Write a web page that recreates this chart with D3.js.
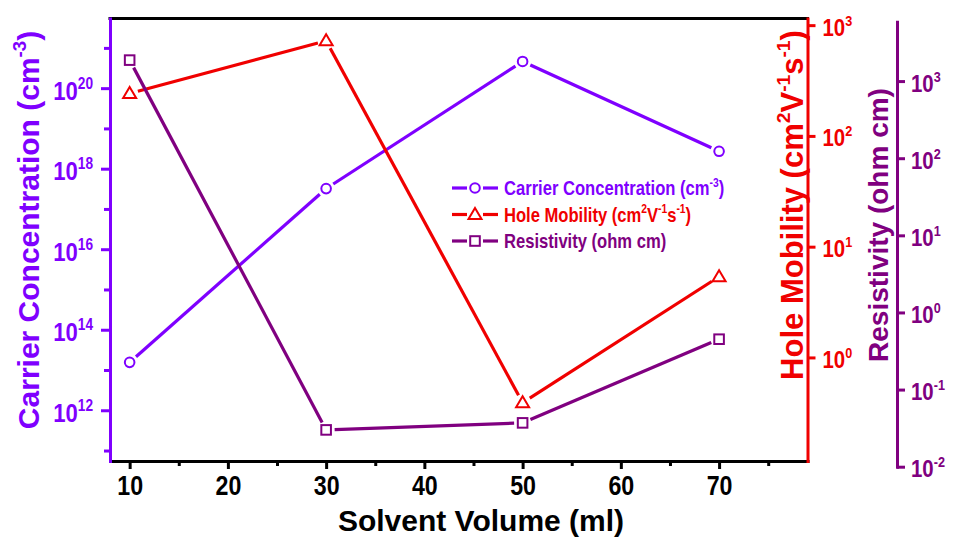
<!DOCTYPE html>
<html><head><meta charset="utf-8">
<script src="https://cdn.jsdelivr.net/npm/d3@7"></script>
<style>
body{margin:0;background:#fff}
svg{display:block}
text{font-family:"Liberation Sans",Arial,sans-serif;font-weight:bold}
</style>
</head><body>
<svg id="chart" width="956" height="537"></svg>
<script>
// ---- data ----
const volumes = [10, 30, 50, 70];
const carrierConc = [1.55e13, 3.2e17, 4.6e20, 2.7e18];
const holeMobility = [242, 722, 0.39, 5.36];
const resistivity = [1870, 0.030, 0.037, 0.45];

const xTickValues = [10, 15, 20, 25, 30, 35, 40, 45, 50, 55, 60, 65, 70, 75];
const xTickLabels = [10, 20, 30, 40, 50, 60, 70];
const carrierTickExp = [11, 12, 13, 14, 15, 16, 17, 18, 19, 20, 21];
const carrierLabelExp = [12, 14, 16, 18, 20];
const mobilityTickExp = [0, 1, 2, 3];
const resistivityTickExp = [-2, -1, 0, 1, 2, 3];

const xTitle = [["Solvent Volume (ml)", 0]];
const carrierTitle = [["Carrier Concentration (cm", 0], ["-3", 1], [")", 0]];
const mobilityTitle = [["Hole Mobility (cm", 0], ["2", 1], ["V", 0], ["-1", 1], ["s", 0], ["-1", 1], [")", 0]];
const resistivityTitle = [["Resistivity (ohm cm)", 0]];

const legendCarrier = [["Carrier Concentration (cm", 0], ["-3", 1], [")", 0]];
const legendMobility = [["Hole Mobility (cm", 0], ["2", 1], ["V", 0], ["-1", 1], ["s", 0], ["-1", 1], [")", 0]];
const legendResistivity = [["Resistivity (ohm cm)", 0]];

// ---- styles ----
const C_VIOLET = "#7f00ff", C_RED = "#f00000", C_PURPLE = "#800080", C_BLACK = "#000";

const svg = d3.select("#chart");
const L = 110, R = 807.5, T = 18.5, B = 461;

const x = d3.scaleLinear().domain([8, 79]).range([L, R]);
const yC = d3.scaleLog().domain([Math.pow(10, 10.74), Math.pow(10, 21.73)]).range([B, T]);
const yM = d3.scaleLog().domain([Math.pow(10, -0.935), Math.pow(10, 3.06)]).range([B, T]);
const yR = d3.scaleLog().domain([1e-2, Math.pow(10, 3.77)]).range([466.7, 21.7]);

function rich(sel, parts, size) {
  let shifted = false;
  const k = size * 0.42;
  parts.forEach(([t, sup]) => {
    const ts = sel.append("tspan").text(t);
    if (sup) {
      ts.attr("font-size", size * 0.62).attr("dy", shifted ? 0 : -k);
      shifted = true;
    } else {
      ts.attr("font-size", size).attr("dy", shifted ? k : 0);
      shifted = false;
    }
  });
}

// condensed text: placed at (tx,ty) and squeezed horizontally
function ctext(parent, tx, ty, sx, anchor, color) {
  return parent.append("text")
    .attr("transform", `translate(${tx},${ty}) scale(${sx},1)`)
    .attr("text-anchor", anchor).attr("fill", color);
}

function styleAxis(g, color, w) {
  g.selectAll("path.domain").attr("stroke", color).attr("stroke-width", w).attr("stroke-linecap", "square");
  g.selectAll(".tick line").attr("stroke", color).attr("stroke-width", w);
  g.selectAll(".tick text").remove();
}

// top frame line
svg.append("line").attr("x1", L).attr("x2", R).attr("y1", T).attr("y2", T)
  .attr("stroke", C_BLACK).attr("stroke-width", 3).attr("stroke-linecap", "square");

// bottom axis
const gx = svg.append("g").attr("transform", `translate(0,${B})`)
  .call(d3.axisBottom(x).tickValues(xTickValues).tickSize(8).tickSizeOuter(0).tickFormat(""));
styleAxis(gx, C_BLACK, 3);
gx.selectAll(".tick").filter(d => d % 10 !== 0).select("line").attr("y2", 5);
gx.selectAll(".tick").filter(d => xTickLabels.includes(d)).each(function (d) {
  ctext(d3.select(this), 0, 34, 0.86, "middle", C_BLACK).attr("font-size", 27).text(d);
});

// left axis
const gl = svg.append("g").attr("transform", `translate(${L},0)`)
  .call(d3.axisLeft(yC).tickValues(carrierTickExp.map(e => Math.pow(10, e))).tickSize(9).tickSizeOuter(0).tickFormat(""));
styleAxis(gl, C_VIOLET, 3);
gl.selectAll(".tick").filter(d => !carrierLabelExp.includes(Math.round(Math.log10(d)))).select("line").attr("x2", -6);
gl.selectAll(".tick").filter(d => carrierLabelExp.includes(Math.round(Math.log10(d)))).each(function (d) {
  const t = ctext(d3.select(this), -17, 11, 0.85, "end", C_VIOLET);
  rich(t, [["10", 0], [String(Math.round(Math.log10(d))), 1]], 26);
});

// right (mobility) axis
const gm = svg.append("g").attr("transform", `translate(${R},0)`)
  .call(d3.axisRight(yM).tickValues(mobilityTickExp.map(e => Math.pow(10, e))).tickSize(8).tickSizeOuter(0).tickFormat(""));
styleAxis(gm, C_RED, 3);
gm.selectAll(".tick").each(function (d) {
  const t = ctext(d3.select(this), 15, 10, 0.85, "start", C_RED);
  rich(t, [["10", 0], [String(Math.round(Math.log10(d))), 1]], 24);
});

// resistivity axis
const RX = 897;
const gr = svg.append("g").attr("transform", `translate(${RX},0)`)
  .call(d3.axisRight(yR).tickValues(resistivityTickExp.map(e => Math.pow(10, e))).tickSize(8).tickSizeOuter(0).tickFormat(""));
styleAxis(gr, C_PURPLE, 3);
gr.selectAll(".tick").each(function (d) {
  const t = ctext(d3.select(this), 14, 10, 0.85, "start", C_PURPLE);
  rich(t, [["10", 0], [String(Math.round(Math.log10(d))), 1]], 24);
});

// axis titles
const tx = svg.append("text").attr("x", 481).attr("y", 531).attr("text-anchor", "middle").attr("fill", C_BLACK);
rich(tx, xTitle, 30);
const tl = svg.append("text").attr("transform", "translate(39,230) rotate(-90)").attr("text-anchor", "middle").attr("fill", C_VIOLET);
rich(tl, carrierTitle, 30);
const tm = svg.append("text").attr("transform", "translate(803,205) rotate(-90)").attr("text-anchor", "middle").attr("fill", C_RED);
rich(tm, mobilityTitle, 31);
const tr = svg.append("text").attr("transform", "translate(888,225) rotate(-90)").attr("text-anchor", "middle").attr("fill", C_PURPLE);
rich(tr, resistivityTitle, 28);

// markers
function marker(g, type, cx, cy, color) {
  if (type === "circle") {
    g.append("circle").attr("cx", cx).attr("cy", cy).attr("r", 4.8)
      .attr("fill", "#fff").attr("stroke", color).attr("stroke-width", 2);
  } else if (type === "triangle") {
    g.append("path").attr("d", `M${cx},${cy - 6.5}L${cx + 6.5},${cy + 4.5}L${cx - 6.5},${cy + 4.5}Z`)
      .attr("fill", "#fff").attr("stroke", color).attr("stroke-width", 2).attr("stroke-linejoin", "miter");
  } else {
    g.append("rect").attr("x", cx - 4.8).attr("y", cy - 4.8).attr("width", 9.6).attr("height", 9.6)
      .attr("fill", "#fff").attr("stroke", color).attr("stroke-width", 2);
  }
}

function gappedSegments(g, pts, color, gap) {
  for (let i = 0; i < pts.length - 1; i++) {
    const [x1, y1] = pts[i], [x2, y2] = pts[i + 1];
    const dx = x2 - x1, dy = y2 - y1, len = Math.hypot(dx, dy);
    const ux = dx / len, uy = dy / len;
    g.append("line")
      .attr("x1", x1 + ux * gap).attr("y1", y1 + uy * gap)
      .attr("x2", x2 - ux * gap).attr("y2", y2 - uy * gap)
      .attr("stroke", color).attr("stroke-width", 3.2);
  }
}

const series = [
  { vals: carrierConc, y: yC, color: C_VIOLET, type: "circle" },
  { vals: holeMobility, y: yM, color: C_RED, type: "triangle" },
  { vals: resistivity, y: yR, color: C_PURPLE, type: "square" }
];
const plot = svg.append("g");
series.forEach(s => {
  const pts = volumes.map((v, i) => [x(v), s.y(s.vals[i])]);
  gappedSegments(plot, pts, s.color, 8.5);
  pts.forEach(p => marker(plot, s.type, p[0], p[1], s.color));
});

// legend
const legendItems = [
  { parts: legendCarrier, color: C_VIOLET, type: "circle" },
  { parts: legendMobility, color: C_RED, type: "triangle" },
  { parts: legendResistivity, color: C_PURPLE, type: "square" }
];
const lg = svg.append("g");
legendItems.forEach((it, i) => {
  const cy = 188 + i * 26.5;
  lg.append("line").attr("x1", 452).attr("x2", 467).attr("y1", cy).attr("y2", cy)
    .attr("stroke", it.color).attr("stroke-width", 3.2);
  lg.append("line").attr("x1", 483).attr("x2", 498).attr("y1", cy).attr("y2", cy)
    .attr("stroke", it.color).attr("stroke-width", 3.2);
  marker(lg, it.type, 475, cy, it.color);
  const t = ctext(lg, 504, cy + 7, 0.83, "start", it.color);
  rich(t, it.parts, 20);
});
</script>
</body></html>
